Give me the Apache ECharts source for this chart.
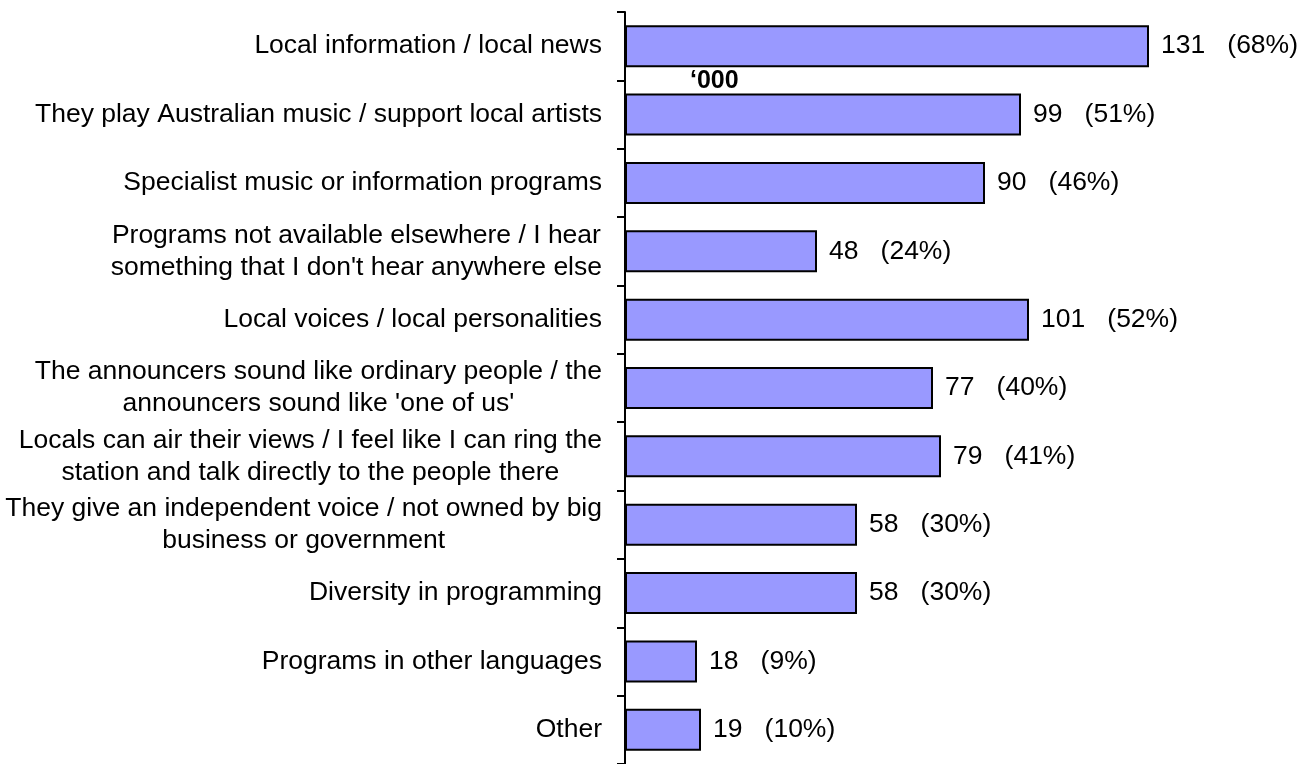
<!DOCTYPE html>
<html>
<head>
<meta charset="utf-8">
<script src="https://cdn.jsdelivr.net/npm/echarts@6/dist/echarts.min.js"></script>
<style>
html,body{margin:0;padding:0;background:#fff;}
#c{width:1309px;height:764px;}
</style>
</head>
<body>
<div id="c"></div>
<script>
const categories = [
  "Local information / local news",
  "They play Australian music / support local artists",
  "Specialist music or information programs",
  "Programs not available elsewhere / I hear\nsomething that I don't hear anywhere else",
  "Local voices / local personalities",
  "The announcers sound like ordinary people / the\nannouncers sound like 'one of us'",
  "Locals can air their views / I feel like I can ring the\nstation and talk directly to the people there",
  "They give an independent voice / not owned by big\nbusiness or government",
  "Diversity in programming",
  "Programs in other languages",
  "Other"
];
const values = [131, 99, 90, 48, 101, 77, 79, 58, 58, 18, 19];
const percents = [68, 51, 46, 24, 52, 40, 41, 30, 30, 9, 10];
const unitLabel = "\u2018000";

const FONT_FAMILY = '"Liberation Sans", Arial, Helvetica, sans-serif';
const FONT_SIZE = 26.5;
const LABEL_GAP = 23;

const measureCtx = document.createElement('canvas').getContext('2d');
measureCtx.font = FONT_SIZE + 'px ' + FONT_FAMILY;
function blockWidth(t) {
  return Math.max.apply(null, t.split('\n').map(l => measureCtx.measureText(l).width));
}

const chart = echarts.init(document.getElementById('c'), null, {renderer: 'canvas'});
chart.setOption({
  animation: false,
  backgroundColor: '#ffffff',
  grid: {left: 625, top: 12, width: 640, height: 756.8, containLabel: false},
  xAxis: {type: 'value', min: 0, max: 160, show: false},
  yAxis: {
    type: 'category',
    data: categories,
    inverse: true,
    axisLine: {show: true, lineStyle: {color: '#000', width: 2}},
    axisTick: {show: true, length: 8, lineStyle: {color: '#000', width: 2}},
    axisLabel: {show: false},
    splitLine: {show: false}
  },
  graphic: [{
    type: 'text', left: 690, top: 69, z: 100,
    style: {text: unitLabel, font: 'bold 25px ' + FONT_FAMILY, fill: '#000'}
  }],
  series: [
    {
      type: 'bar',
      data: values,
      barWidth: 42,
      itemStyle: {color: '#9999FF', borderColor: '#000', borderWidth: 2},
      label: {
        show: true, position: 'right', distance: 12,
        color: '#000', fontSize: FONT_SIZE, fontFamily: FONT_FAMILY,
        formatter: p => values[p.dataIndex] + '   (' + percents[p.dataIndex] + '%)'
      }
    },
    {
      type: 'custom',
      clip: false,
      silent: true,
      data: categories.map((c, i) => [0, i]),
      renderItem: function (params, api) {
        const i = api.value(1);
        const pt = api.coord([0, i]);
        const txt = categories[i];
        const w = blockWidth(txt);
        return {
          type: 'text',
          style: {
            text: txt,
            x: pt[0] - LABEL_GAP - w / 2,
            y: pt[1],
            align: 'center',
            verticalAlign: 'middle',
            font: FONT_SIZE + 'px ' + FONT_FAMILY,
            lineHeight: 32,
            fill: '#000'
          }
        };
      }
    }
  ]
});
</script>
</body>
</html>
